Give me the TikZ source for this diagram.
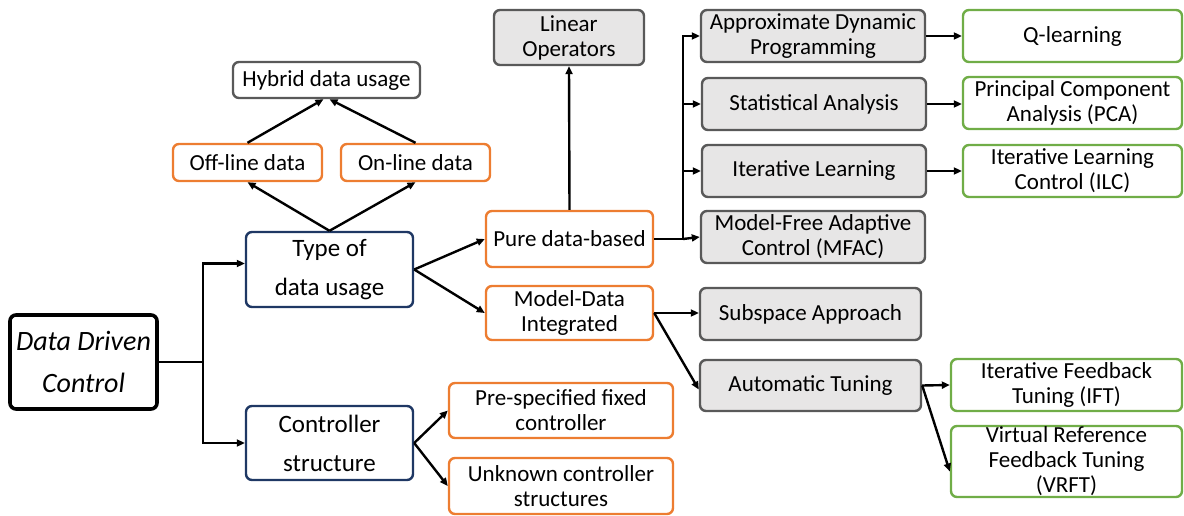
\documentclass[tikz,border=0pt]{standalone}
\usepackage{fontspec}
\setmainfont{Carlito}
\usetikzlibrary{arrows.meta}
\definecolor{orng}{HTML}{ED7D31}
\definecolor{navy}{HTML}{1F3864}
\definecolor{grn}{HTML}{70AD47}
\definecolor{gbord}{HTML}{595959}
\definecolor{gfill}{HTML}{E7E6E6}
\tikzset{
  box/.style={draw, rounded corners=6pt, line width=2.4pt, align=center, inner sep=0pt,
    font=\fontsize{23}{25}\selectfont},
  obox/.style={box, draw=orng, fill=white},
  bbox/.style={box, draw=navy, fill=white, font=\fontsize{25}{39}\selectfont},
  gbox/.style={box, draw=gbord, fill=gfill},
  wbox/.style={box, draw=gbord, fill=white},
  grbox/.style={box, draw=grn, fill=white},
  mainbox/.style={box, draw=black, line width=3.6pt, font=\fontsize{28}{42}\selectfont\itshape},
  arr/.style={line width=2.4pt, -{Triangle[length=8pt,width=7pt]}},
  ln/.style={line width=2.4pt},
}
\begin{document}
\begin{tikzpicture}[x=1pt,y=-1pt]
\useasboundingbox (0,0) rectangle (1184,516);
\node[mainbox, minimum width=147, minimum height=94] (ddc) at (83.5,362) {Data Driven\\Control};
\node[bbox, minimum width=167, minimum height=75] (type) at (329.5,269.5) {Type of\\data usage};
\node[bbox, minimum width=167, minimum height=74] (ctrl) at (329.5,443) {Controller\\structure};
\node[wbox, minimum width=187, minimum height=36] (hyb) at (326.5,80) {Hybrid data usage};
\node[obox, minimum width=149, minimum height=37] (off) at (247.5,162.5) {Off-line data};
\node[obox, minimum width=149, minimum height=37] (on) at (415.5,162.5) {On-line data};
\node[gbox, minimum width=150, minimum height=55] (lin) at (569,37.5) {Linear\\Operators};
\node[obox, minimum width=167, minimum height=56] (pure) at (569.5,239) {Pure data-based};
\node[obox, minimum width=167, minimum height=54] (mdi) at (569.5,313) {Model-Data\\Integrated};
\node[obox, minimum width=224, minimum height=55] (pre) at (561,410.5) {Pre-specified fixed\\controller};
\node[obox, minimum width=224, minimum height=56] (unk) at (561,486) {Unknown controller\\structures};
\node[gbox, minimum width=224, minimum height=52] (adp) at (813,36) {Approximate Dynamic\\Programming};
\node[gbox, minimum width=224, minimum height=52] (sa) at (814,104) {Statistical Analysis};
\node[gbox, minimum width=224, minimum height=52] (il) at (814,171) {Iterative Learning};
\node[gbox, minimum width=224, minimum height=52] (mfac) at (813,237) {Model-Free Adaptive\\Control (MFAC)};
\node[gbox, minimum width=221, minimum height=52] (sub) at (810.5,314) {Subspace Approach};
\node[gbox, minimum width=221, minimum height=51] (at) at (810.5,385.5) {Automatic Tuning};
\node[grbox, minimum width=219, minimum height=52] (q) at (1072.5,36) {Q-learning};
\node[grbox, minimum width=219, minimum height=52] (pca) at (1072.5,103) {Principal Component\\Analysis (PCA)};
\node[grbox, minimum width=219, minimum height=52] (ilc) at (1072.5,171) {Iterative Learning\\Control (ILC)};
\node[grbox, minimum width=231, minimum height=52] (ift) at (1066.5,385) {Iterative Feedback\\Tuning (IFT)};
\node[grbox, minimum width=231, minimum height=71] (vrft) at (1066.5,461.5) {Virtual Reference\\Feedback Tuning\\(VRFT)};
% connectors
\coordinate (j1) at (203,362);
\draw[ln] (ddc.east) -- (j1);
\draw[arr] (j1) |- ([yshift=6]type.west);
\draw[arr] (j1) |- (ctrl.west);
\draw[arr] (type.north) -- (off.south);
\draw[arr] (type.north) -- (on.south);
\draw[arr] (off.north) -- ([xshift=-3]hyb.south);
\draw[arr] (on.north) -- ([xshift=3]hyb.south);
\draw[arr] (type.east) -- (pure.west);
\draw[arr] (type.east) -- (mdi.west);
\draw[arr] (pure.north) -- (lin.south);
\coordinate (j2) at (683,239);
\draw[ln] (pure.east) -- (j2);
\draw[arr] (j2) |- (adp.west);
\draw[arr] (j2) |- (sa.west);
\draw[arr] (j2) |- (il.west);
\draw[arr] (j2) -- (mfac.west);
\draw[arr] (adp.east) -- (q.west);
\draw[arr] (sa.east) -- (sa.east -| pca.west);
\draw[arr] (il.east) -- (ilc.west);
\draw[arr] (mdi.east) -- (mdi.east -| sub.west);
\draw[arr] (mdi.east) -- ([yshift=-4]at.west);
\draw[arr] (at.east) -- (ift.west);
\draw[arr] (at.east) -- ([yshift=-10]vrft.west);
\draw[arr] (ctrl.east) -- (pre.west);
\draw[arr] (ctrl.east) -- (unk.west);
\end{tikzpicture}
\end{document}
